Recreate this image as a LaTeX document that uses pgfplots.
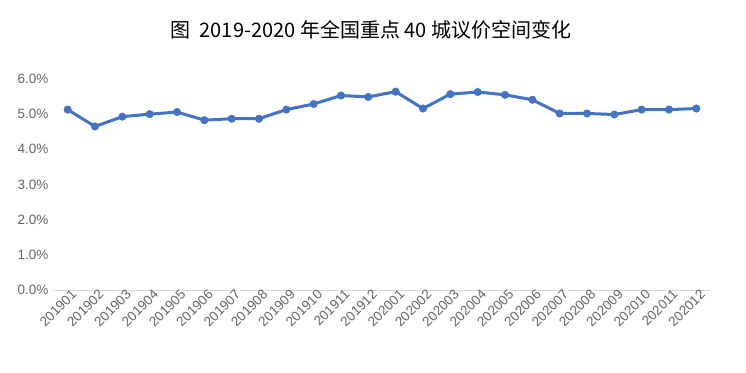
\documentclass[border=0pt]{standalone}
\usepackage{fontspec}
\setmainfont{Liberation Sans}
\newfontfamily\cjk{Noto Sans CJK SC}
\usepackage{pgfplots}
\pgfplotsset{compat=1.18}
\definecolor{lineblue}{HTML}{4472C4}
\definecolor{tickgray}{HTML}{666666}
\definecolor{axgray}{HTML}{D9D9D9}
\begin{document}
\begin{tikzpicture}
\path (0pt,0pt) rectangle (746pt,372pt);
\node[font=\cjk\fontsize{20}{24}\selectfont, text=black] at (371pt,342pt) {图\ \ 2019-2020 年全国重点 40 城议价空间变化};
\begin{axis}[
  at={(54pt,82pt)}, anchor=south west, scale only axis,
  width=656pt, height=211pt,
  xmin=-0.5, xmax=23.5, ymin=0, ymax=6,
  axis x line*=bottom, axis y line*=left,
  x axis line style={draw=axgray, line width=1pt, -},
  y axis line style={draw=none},
  major tick length=0pt,
  ytick={0,1,2,3,4,5,6},
  /pgf/number format/assume math mode=true,
  yticklabel={\pgfmathprintnumber[fixed,fixed zerofill,precision=1]{\tick}\%},
  yticklabel style={font=\fontsize{13.5}{15}\selectfont, text=tickgray, xshift=-2pt},
  xtick={0,...,23},
  xticklabels={201901,201902,201903,201904,201905,201906,201907,201908,201909,201910,201911,201912,202001,202002,202003,202004,202005,202006,202007,202008,202009,202010,202011,202012},
  xticklabel style={font=\fontsize{13.5}{15}\selectfont, text=tickgray, rotate=45, anchor=north east, xshift=4pt, inner sep=1pt},
  clip=false,
]
\addplot[color=lineblue, line width=3pt, mark=*, mark size=3.8pt, mark options={solid, fill=lineblue, draw=lineblue, line width=0.4pt}]
coordinates {
(0,5.13) (1,4.65) (2,4.93) (3,5.00) (4,5.06) (5,4.83) (6,4.87) (7,4.87)
(8,5.13) (9,5.29) (10,5.53) (11,5.49) (12,5.64) (13,5.16) (14,5.57) (15,5.63)
(16,5.55) (17,5.41) (18,5.02) (19,5.02) (20,4.99) (21,5.13) (22,5.13) (23,5.16)
};
\end{axis}
\end{tikzpicture}
\end{document}
